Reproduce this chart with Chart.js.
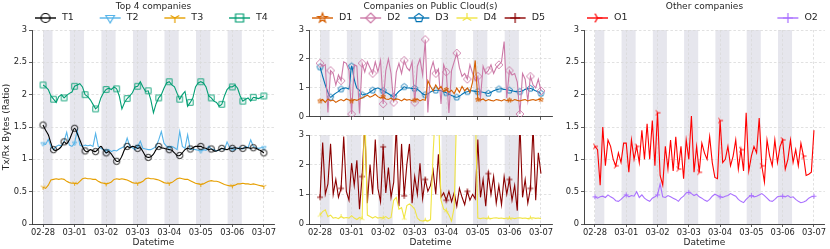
<!DOCTYPE html>
<html>
<head>
<meta charset="utf-8">
<script src="https://cdn.jsdelivr.net/npm/chart.js@4.4.1/dist/chart.umd.min.js"></script>
<style>
body { margin: 0; background: #fff; width: 830px; height: 249px; position: relative; overflow: hidden; }
canvas { position: absolute; }
</style>
</head>
<body>
<canvas id="p1" style="left:0px;top:0px" width="280" height="249"></canvas>
<canvas id="p2a" style="left:280px;top:0px" width="280" height="122"></canvas>
<canvas id="p2b" style="left:280px;top:122px" width="280" height="127"></canvas>
<canvas id="p3" style="left:560px;top:0px" width="270" height="249"></canvas>
<script>
// x axis: days since 02-28, one sample every 2 hours
const dateLabels = ['02-28', '03-01', '03-02', '03-03', '03-04', '03-05', '03-06', '03-07'];
const dayTicks = [0, 1, 2, 3, 4, 5, 6, 7];
const sampleHours = Array.from({ length: 85 }, (_, i) => i * 2);
const ticksHalf = [0, 0.5, 1, 1.5, 2, 2.5, 3];
const ticksWhole = [0, 1, 2, 3];
// shaded periods (in days)
const bandStart = [0, 0.85, 1.85, 2.85, 3.85, 4.85, 5.85];
const bandEnd = [0.3, 1.3, 2.3, 3.3, 4.3, 5.3, 6.3];

const T1 = [
  1.53, 1.45, 1.38, 1.25, 1.15, 1.14, 1.16, 1.2, 1.27, 1.24, 1.3, 1.4,
  1.48, 1.4, 1.3, 1.2, 1.13, 1.12, 1.15, 1.13, 1.12, 1.16, 1.2, 1.15,
  1.1, 1.12, 1.08, 1.02, 0.97, 0.98, 1.05, 1.15, 1.2, 1.18, 1.2, 1.19,
  1.17, 1.18, 1.12, 1.05, 1.03, 1.04, 1.08, 1.15, 1.2, 1.18, 1.17, 1.16,
  1.15, 1.14, 1.1, 1.06, 1.06, 1.1, 1.15, 1.17, 1.16, 1.18, 1.2, 1.2,
  1.2, 1.18, 1.17, 1.15, 1.16, 1.13, 1.13, 1.15, 1.17, 1.16, 1.15, 1.17,
  1.17, 1.18, 1.17, 1.16, 1.17, 1.18, 1.18, 1.17, 1.18, 1.17, 1.15, 1.13,
  1.1];
const T2 = [
  1.24, 1.23, 1.31, 1.2, 1.15, 1.2, 1.22, 1.21, 1.28, 1.42, 1.22, 1.2,
  1.25, 1.45, 1.22, 1.2, 1.22, 1.21, 1.22, 1.2, 1.4, 1.2, 1.17, 1.15,
  1.13, 1.15, 1.12, 1.14, 1.13, 1.16, 1.18, 1.2, 1.33, 1.2, 1.18, 1.15,
  1.2, 1.28, 1.17, 1.16, 1.15, 1.15, 1.17, 1.2, 1.3, 1.43, 1.25, 1.2,
  1.18, 1.2, 1.18, 1.15, 1.43, 1.2, 1.17, 1.38, 1.15, 1.16, 1.15, 1.14,
  1.13, 1.15, 1.14, 1.2, 1.16, 1.15, 1.13, 1.14, 1.17, 1.15, 1.27, 1.18,
  1.16, 1.15, 1.17, 1.18, 1.16, 1.2, 1.18, 1.3, 1.2, 1.18, 1.17, 1.18,
  1.18];
const T3 = [
  0.57, 0.55, 0.6, 0.68, 0.69, 0.7, 0.69, 0.7, 0.69, 0.66, 0.64, 0.63,
  0.63, 0.62, 0.66, 0.7, 0.71, 0.7, 0.7, 0.69, 0.69, 0.66, 0.64, 0.63,
  0.62, 0.63, 0.65, 0.69, 0.7, 0.69, 0.7, 0.69, 0.68, 0.66, 0.64, 0.63,
  0.63, 0.64, 0.66, 0.7, 0.71, 0.7, 0.7, 0.69, 0.68, 0.66, 0.64, 0.63,
  0.63, 0.64, 0.67, 0.7, 0.71, 0.7, 0.69, 0.69, 0.67, 0.65, 0.63, 0.62,
  0.61, 0.62, 0.64, 0.66, 0.67, 0.66, 0.66, 0.65, 0.63, 0.61, 0.6, 0.59,
  0.59, 0.6, 0.62, 0.62, 0.63, 0.62, 0.62, 0.61, 0.62, 0.61, 0.6, 0.59,
  0.58];
const T4 = [
  2.15, 2.12, 2.08, 1.98, 1.93, 1.88, 1.97, 2.0, 1.95, 1.99, 2.02, 2.04,
  2.13, 2.15, 2.17, 2.12, 2.0, 1.97, 1.92, 1.85, 1.78, 1.82, 1.95, 2.03,
  2.08, 2.1, 2.08, 2.12, 2.09, 1.98, 1.78, 1.88, 1.94, 1.98, 2.03, 2.12,
  2.13, 2.2, 2.12, 2.05, 2.06, 1.92, 1.72, 1.86, 1.95, 2.0, 2.1, 2.18,
  2.2, 2.15, 2.12, 2.02, 1.93, 2.0, 2.05, 1.82, 1.88, 1.95, 2.12, 2.18,
  2.2, 2.18, 2.12, 1.98, 1.95, 1.9, 1.88, 1.82, 1.85, 1.98, 2.08, 2.12,
  2.12, 2.15, 2.1, 1.98, 1.9, 1.93, 1.95, 1.9, 1.96, 1.95, 1.94, 1.96,
  1.98];

const D1 = [
  0.55, 0.6, 0.5, 0.62, 0.55, 0.58, 0.5, 0.56, 0.6, 0.55, 0.62, 0.58,
  0.55, 0.6, 0.57, 0.62, 0.65, 0.7, 0.75, 0.68, 0.72, 0.78, 0.7, 0.65,
  0.7, 0.62, 0.6, 0.65, 0.58, 0.62, 0.6, 0.55, 0.62, 0.58, 0.6, 0.56,
  0.58, 0.62, 0.55, 0.6, 0.57, 1.25, 1.05, 0.9, 1.1, 0.95, 1.05, 0.88,
  0.95, 0.85, 0.92, 0.8, 1.0, 0.85, 1.05, 0.9, 1.0, 0.85, 1.2, 1.95,
  0.6, 0.58, 0.62, 0.55, 0.6, 0.57, 0.55, 0.6, 0.58, 0.55, 0.6, 0.56,
  0.58, 0.55, 0.6, 0.57, 0.55, 0.58, 0.6, 0.55, 0.58, 0.6, 0.57, 0.6,
  0.6];
const D2 = [
  1.85, 1.75, 1.8, 0.15, 1.6, 1.5, 1.1, 1.45, 1.25, 1.9, 1.85, 1.6,
  0.1, 1.8, 1.75, 0.12, 1.85, 1.55, 1.9, 1.7, 1.5, 1.9, 1.55, 1.95,
  0.45, 1.6, 2.0, 1.5, 0.5, 1.55, 1.85, 1.5, 1.95, 1.7, 1.6, 1.9,
  0.5, 1.75, 2.0, 1.45, 2.67, 0.15, 1.6, 1.9, 1.5, 1.65, 0.45, 1.8,
  1.55, 0.14, 1.6, 1.9, 2.2, 1.7, 1.4, 1.5, 1.3, 1.8, 1.5, 1.25,
  1.4, 0.65, 1.75, 1.5, 1.6, 1.8, 1.5, 1.7, 1.8, 1.9, 2.6, 0.65,
  1.6, 1.45, 1.5, 1.2, 0.1, 1.5, 1.3, 0.55, 1.4, 1.1, 1.0, 1.3,
  0.9];
const D3 = [
  1.72, 1.4, 1.1, 0.85, 0.68, 0.75, 0.82, 0.88, 0.96, 0.99, 1.0, 0.97,
  1.75, 1.3, 1.0, 0.92, 0.76, 0.78, 0.8, 0.86, 0.92, 0.97, 1.0, 0.95,
  0.9, 0.85, 0.8, 0.74, 0.7, 0.78, 0.88, 0.95, 1.04, 1.0, 1.0, 0.98,
  0.98, 0.95, 0.88, 0.8, 0.76, 0.8, 0.86, 0.9, 0.92, 0.92, 0.9, 0.87,
  0.83, 0.78, 0.74, 0.7, 0.68, 0.72, 0.78, 0.84, 0.87, 0.9, 0.9, 0.88,
  0.87, 0.86, 0.85, 0.83, 0.81, 0.85, 0.9, 0.94, 0.96, 0.97, 0.95, 0.94,
  0.92, 0.9, 0.88, 0.87, 0.87, 0.9, 0.95, 0.97, 0.98, 0.95, 0.9, 0.86,
  0.81];
const D4 = [
  0.3, 0.42, 0.48, 0.25, 0.3, 0.2, 0.22, 0.18, 0.25, 0.2, 0.22, 0.2,
  0.28, 0.2, 0.15, 0.22, 0.18, 4.0, 0.3, 0.25, 0.2, 0.25, 0.2, 0.22,
  0.2, 0.25, 0.18, 0.22, 0.8, 0.9, 0.5, 0.55, 0.2, 0.62, 0.68, 0.6,
  0.5, 0.2, 0.12, 0.1, 0.13, 0.1, 0.15, 2.4, 4.0, 4.0, 0.8, 0.5,
  0.45, 0.3, 0.1, 0.55, 4.0, 4.0, 4.0, 4.0, 4.0, 4.0, 4.0, 4.0,
  0.2, 0.18, 0.2, 0.19, 0.2, 0.18, 0.2, 0.21, 0.19, 0.2, 0.18, 0.2,
  0.19, 0.2, 0.18, 0.2, 0.21, 0.19, 0.2, 0.18, 0.2, 0.21, 0.19, 0.2,
  0.18];
const D5 = [
  0.9, 2.75, 1.0, 1.35, 2.7, 1.0, 1.5, 0.9, 1.2, 2.95, 1.1, 0.8,
  2.05, 1.3, 2.15, 0.5, 1.6, 3.4, 0.7, 2.0, 1.0, 2.85, 1.2, 0.75,
  2.6, 1.05, 1.9, 0.9, 1.4, 3.3, 0.6, 2.7, 0.95, 2.0, 2.7, 0.7,
  1.6, 1.0, 2.05, 0.85, 1.5, 1.1, 1.3, 1.8, 1.0, 2.35, 0.9, 1.05,
  0.8, 1.1, 0.75, 1.05, 0.6, 1.2, 0.9, 0.65, 1.1, 0.8, 1.0, 0.85,
  2.85, 0.9, 1.5, 0.6, 1.7, 1.0, 1.6, 0.7, 1.3, 0.65, 1.6, 1.0,
  1.5, 0.8, 1.3, 0.45, 3.4, 0.9, 1.5, 0.7, 1.2, 3.3, 0.8, 2.4,
  1.7];

const O1 = [
  1.2, 1.15, 0.6, 1.5, 0.9, 1.3, 1.2, 1.0, 0.9, 1.1, 0.95, 1.25,
  1.25, 0.8, 1.3, 1.0, 1.2, 0.95, 1.45, 1.0, 1.55, 1.0, 1.6, 0.9,
  1.72, 0.75, 0.6, 1.2, 0.85, 1.3, 0.82, 1.35, 0.85, 1.2, 0.7, 1.3,
  1.0, 1.67, 0.8, 1.2, 0.8, 1.25, 1.1, 1.0, 1.35, 0.95, 0.72, 0.7,
  1.6, 0.95, 1.0, 1.2, 0.9, 1.05, 1.3, 0.85, 1.15, 0.82, 1.72, 0.82,
  1.05, 1.2, 1.1, 1.64, 0.9, 0.65, 1.3, 1.05, 0.9, 1.3, 0.95, 1.2,
  1.3, 0.85, 1.0, 1.3, 0.95, 1.15, 0.9, 1.25, 1.05, 0.75, 0.77, 0.8,
  1.45];
const O2 = [
  0.42, 0.4, 0.42, 0.43, 0.41, 0.45, 0.42, 0.4, 0.36, 0.35, 0.38, 0.42,
  0.45, 0.42, 0.44, 0.43, 0.5, 0.41, 0.45, 0.4, 0.37, 0.35, 0.4, 0.42,
  0.45, 0.62, 0.42, 0.41, 0.44, 0.42, 0.4, 0.38, 0.35, 0.4, 0.43, 0.48,
  0.49, 0.47, 0.44, 0.46, 0.42, 0.4, 0.37, 0.35, 0.38, 0.43, 0.46, 0.44,
  0.42, 0.41, 0.43, 0.44, 0.47, 0.45, 0.43, 0.38, 0.35, 0.33, 0.38, 0.42,
  0.44, 0.42, 0.43, 0.45, 0.47, 0.44, 0.4, 0.36, 0.35, 0.38, 0.42, 0.43,
  0.43, 0.42, 0.44, 0.41, 0.42, 0.38, 0.35, 0.33, 0.34, 0.36, 0.4, 0.42,
  0.43];

Chart.defaults.font.family = '"DejaVu Sans"';
Chart.defaults.color = '#262626';

// matplotlib-like hollow markers drawn on small canvases
function markerCanvas(kind, color, size, lw) {
  const s = Math.ceil(size) + 4;
  const c = document.createElement('canvas');
  c.width = s;
  c.height = s;
  const g = c.getContext('2d');
  g.translate(s / 2, s / 2);
  g.strokeStyle = color;
  g.lineWidth = lw;
  const r = size / 2;
  const poly = (n, rr, rot) => {
    for (let k = 0; k < n; k++) {
      const a = rot + k * 2 * Math.PI / n;
      if (k) g.lineTo(rr * Math.cos(a), rr * Math.sin(a));
      else g.moveTo(rr * Math.cos(a), rr * Math.sin(a));
    }
    g.closePath();
  };
  const arms = angles => angles.forEach(a => {
    g.moveTo(0, 0);
    g.lineTo(r * Math.cos(a), r * Math.sin(a));
  });
  g.beginPath();
  if (kind === 'circle') g.arc(0, 0, r * 0.9, 0, 2 * Math.PI);
  else if (kind === 'square') g.rect(-r * 0.8, -r * 0.8, r * 1.6, r * 1.6);
  else if (kind === 'triDown') poly(3, r, Math.PI / 2);
  else if (kind === 'diamond') poly(4, r, -Math.PI / 2);
  else if (kind === 'pentagon') poly(5, r * 0.9, -Math.PI / 2);
  else if (kind === 'star') {
    for (let k = 0; k < 10; k++) {
      const a = -Math.PI / 2 + k * Math.PI / 5;
      const rr = k % 2 ? r * 0.4 : r;
      if (k) g.lineTo(rr * Math.cos(a), rr * Math.sin(a));
      else g.moveTo(rr * Math.cos(a), rr * Math.sin(a));
    }
    g.closePath();
  }
  else if (kind === 'tri1') arms([Math.PI / 2, -5 * Math.PI / 6, -Math.PI / 6]);
  else if (kind === 'tri2') arms([-Math.PI / 2, 5 * Math.PI / 6, Math.PI / 6]);
  else if (kind === 'tri4') arms([0, -2 * Math.PI / 3, 2 * Math.PI / 3]);
  else if (kind === 'plus') {
    g.moveTo(-r, 0); g.lineTo(r, 0);
    g.moveTo(0, -r); g.lineTo(0, r);
  }
  g.stroke();
  return c;
}

// every: marker on every n-th sample, size: marker size in px
function series(label, values, color, kind, every, size, tension) {
  return {
    label: label,
    data: values.map((v, i) => ({ x: sampleHours[i] / 24, y: v })),
    borderColor: color,
    backgroundColor: color,
    borderWidth: 1.1,
    tension: tension || 0,
    pointStyle: markerCanvas(kind, color, size, 0.9),
    pointRadius: ctx => ctx.dataIndex % every === 0 ? 3 : 0,
    legendIcon: markerCanvas(kind, color, 10, 1.2)
  };
}

const bandsPlugin = {
  id: 'bands',
  beforeDraw(chart) {
    const { ctx, chartArea: a, scales: { x } } = chart;
    ctx.save();
    ctx.fillStyle = '#e6e6ed';
    bandStart.forEach((s, i) => {
      const x0 = x.getPixelForValue(s);
      const x1 = x.getPixelForValue(bandEnd[i]);
      ctx.fillRect(x0, a.top, x1 - x0, a.bottom - a.top);
    });
    ctx.restore();
  }
};

// panel title and an "expanded" legend row
const headPlugin = {
  id: 'head',
  afterDraw(chart, args, opts) {
    if (!opts.title) return;
    const { ctx, chartArea: a } = chart;
    const ds = chart.data.datasets;
    ctx.save();
    ctx.fillStyle = '#262626';
    ctx.textBaseline = 'middle';
    ctx.textAlign = 'center';
    ctx.font = '9px "DejaVu Sans"';
    ctx.fillText(opts.title, (a.left + a.right) / 2, 7);
    ctx.font = '9.5px "DejaVu Sans"';
    ctx.textAlign = 'left';
    const start = a.left + 3;
    const end = a.right - 6;
    const lastW = 28 + ctx.measureText(ds[ds.length - 1].label).width;
    const step = (end - start - lastW) / (ds.length - 1);
    ds.forEach((d, i) => {
      const x = start + i * step;
      const y = 18;
      ctx.strokeStyle = d.borderColor;
      ctx.lineWidth = 1.4;
      ctx.beginPath();
      ctx.moveTo(x, y);
      ctx.lineTo(x + 21, y);
      ctx.stroke();
      const ic = d.legendIcon;
      ctx.drawImage(ic, x + 10.5 - ic.width / 2, y - ic.height / 2);
      ctx.fillText(d.label, x + 27, y);
    });
    ctx.restore();
  }
};

const gridOpts = { color: '#d9d9d9', lineWidth: 0.8, drawTicks: true, tickLength: 3, tickColor: '#333', tickWidth: 0.8 };
const borderOpts = { display: true, color: '#333', width: 0.9, dash: [2.5, 2] };

function panel(id, o) {
  return new Chart(document.getElementById(id), {
    type: 'line',
    data: { datasets: o.series },
    options: {
      responsive: false,
      animation: false,
      events: [],
      layout: { padding: o.padding },
      plugins: {
        legend: { display: false },
        tooltip: { enabled: false },
        head: { title: o.title }
      },
      scales: {
        x: {
          type: 'linear',
          min: -0.35,
          max: 7.35,
          afterBuildTicks: s => { s.ticks = dayTicks.map(v => ({ value: v })); },
          afterFit: s => { s.height = o.xh; s.paddingLeft = 0; s.paddingRight = 0; },
          ticks: { display: o.xlabels, maxRotation: 0, autoSkip: false, padding: 1, font: { size: 8.3 }, callback: v => dateLabels[v] },
          grid: gridOpts,
          border: borderOpts,
          title: { display: o.xlabels, text: 'Datetime', font: { size: 9 }, padding: { top: 0, bottom: 1 } }
        },
        y: {
          min: 0,
          max: 3,
          afterBuildTicks: s => { s.ticks = o.yticks.map(v => ({ value: v })); },
          afterFit: s => { s.width = o.yw; s.paddingTop = 0; s.paddingBottom = 0; },
          ticks: { padding: 2, font: { size: 8.3 }, callback: v => String(v) },
          grid: gridOpts,
          border: borderOpts,
          title: { display: !!o.ytitle, text: o.ytitle || '', font: { size: 9 }, padding: { top: 1, bottom: 0 } }
        }
      }
    },
    plugins: [bandsPlugin, headPlugin]
  });
}

panel('p1', {
  title: 'Top 4 companies',
  ytitle: 'Tx/Rx Bytes (Ratio)',
  padding: { left: 0, right: 4, top: 30, bottom: 0 },
  yw: 32, xh: 25, xlabels: true, yticks: ticksHalf,
  series: [
    series('T1', T1, '#000000', 'circle', 4, 7, 0.3),
    series('T2', T2, '#56b4e9', 'triDown', 12, 5),
    series('T3', T3, '#e69f00', 'tri1', 12, 5),
    series('T4', T4, '#009e73', 'square', 4, 7)
  ]
});

panel('p2a', {
  title: 'Companies on Public Cloud(s)',
  padding: { left: 0, right: 8, top: 30, bottom: 0 },
  yw: 29, xh: 3, xlabels: false, yticks: ticksWhole,
  series: [
    series('D1', D1, '#d55e00', 'star', 12, 5),
    series('D2', D2, '#cc79a7', 'diamond', 4, 8),
    series('D3', D3, '#0072b2', 'pentagon', 4, 7, 0.3),
    series('D4', [], '#f0e442', 'tri2', 8, 5),
    series('D5', [], '#8b0000', 'plus', 8, 6)
  ]
});

panel('p2b', {
  padding: { left: 0, right: 8, top: 13, bottom: 0 },
  yw: 29, xh: 25, xlabels: true, yticks: ticksWhole,
  series: [
    series('D4', D4, '#f0e442', 'tri2', 8, 5),
    series('D5', D5, '#8b0000', 'plus', 8, 6)
  ]
});

panel('p3', {
  title: 'Other companies',
  padding: { left: 0, right: 2, top: 30, bottom: 0 },
  yw: 24, xh: 25, xlabels: true, yticks: ticksHalf,
  series: [
    series('O1', O1, '#ff0000', 'tri4', 8, 6),
    series('O2', O2, '#a970ff', 'plus', 12, 5)
  ]
});
</script>
</body>
</html>
